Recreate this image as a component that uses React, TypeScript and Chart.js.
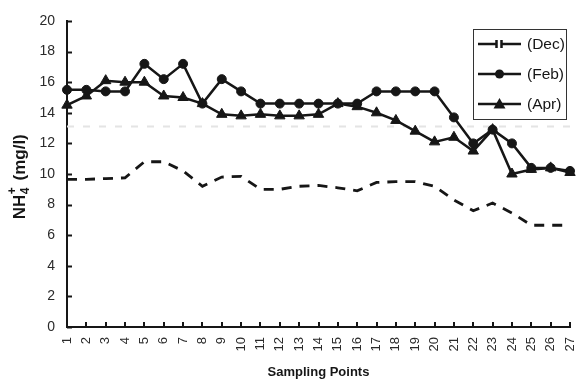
import React, { useEffect, useRef } from "react";
import { Chart, registerables } from "chart.js";

Chart.register(...registerables);

const categories = [
  "1", "2", "3", "4", "5", "6", "7", "8", "9", "10", "11", "12", "13", "14",
  "15", "16", "17", "18", "19", "20", "21", "22", "23", "24", "25", "26", "27",
];

const decValues = [
  9.65, 9.65, 9.7, 9.75, 10.8, 10.8, 10.2, 9.2, 9.8, 9.85, 9.0, 9.0, 9.2, 9.25,
  9.1, 8.9, 9.45, 9.5, 9.5, 9.2, 8.3, 7.6, 8.1, 7.45, 6.65, 6.65, 6.65,
];

const febValues = [
  15.5, 15.5, 15.4, 15.4, 17.2, 16.2, 17.2, 14.6, 16.2, 15.4, 14.6, 14.6, 14.6, 14.6,
  14.6, 14.6, 15.4, 15.4, 15.4, 15.4, 13.7, 12.0, 12.9, 12.0, 10.4, 10.4, 10.2,
];

const aprValues = [
  14.5, 15.1, 16.1, 16.0, 16.0, 15.1, 15.0, 14.6, 13.9, 13.8, 13.9, 13.8, 13.8, 13.9,
  14.6, 14.4, 14.0, 13.5, 12.8, 12.1, 12.4, 11.5, 12.9, 10.0, 10.3, 10.4, 10.1,
];

const seriesLabels = ["(Dec)", "(Feb)", "(Apr)"];
const referenceLevel = 13.1;
const yMin = 0;
const yMax = 20;
const yStep = 2;
const xTitle = "Sampling Points";

const FONT = "'Liberation Sans', Arial, Helvetica, sans-serif";
const INK = "#161616";

const overlayPlugin = {
  id: "overlay",
  beforeDatasetsDraw(chart: any) {
    const { ctx, chartArea, scales } = chart;
    const y = scales.y.getPixelForValue(referenceLevel);
    ctx.save();
    ctx.strokeStyle = "#e4e4e4";
    ctx.lineWidth = 2;
    ctx.setLineDash([7, 9]);
    ctx.beginPath();
    ctx.moveTo(chartArea.left, y);
    ctx.lineTo(chart.width, y);
    ctx.stroke();
    ctx.restore();
  },
  afterDraw(chart: any) {
    const { ctx, chartArea, scales } = chart;
    ctx.save();
    // inward tick marks
    ctx.strokeStyle = INK;
    ctx.lineWidth = 2;
    ctx.setLineDash([]);
    scales.y.ticks.forEach((_t: any, i: number) => {
      const py = Math.round(scales.y.getPixelForTick(i)) + 0.5;
      ctx.beginPath();
      ctx.moveTo(chartArea.left, py);
      ctx.lineTo(chartArea.left + 5, py);
      ctx.stroke();
    });
    scales.x.ticks.forEach((_t: any, i: number) => {
      const px = Math.round(scales.x.getPixelForTick(i));
      ctx.beginPath();
      ctx.moveTo(px, chartArea.bottom);
      ctx.lineTo(px, chartArea.bottom - 5);
      ctx.stroke();
    });

    // y-axis title with subscript / superscript
    const cx = 19;
    const cy = (chartArea.top + chartArea.bottom) / 2 + 3;
    ctx.translate(cx, cy);
    ctx.rotate(-Math.PI / 2);
    const big = `bold 17px ${FONT}`;
    const small = `bold 12px ${FONT}`;
    ctx.font = big;
    const wNH = ctx.measureText("NH").width;
    const wRest = ctx.measureText(" (mg/l)").width;
    ctx.font = small;
    const wSub = Math.max(ctx.measureText("4").width, ctx.measureText("+").width) + 2;
    const total = wNH + wSub + wRest;
    let x = -total / 2;
    const base = 6.2;
    ctx.fillStyle = INK;
    ctx.textBaseline = "alphabetic";
    ctx.textAlign = "left";
    ctx.font = big;
    ctx.fillText("NH", x, base);
    x += wNH + 0.5;
    ctx.font = small;
    ctx.fillText("4", x, base + 3.5);
    ctx.fillText("+", x, base - 9.5);
    x += wSub;
    ctx.font = big;
    ctx.fillText(" (mg/l)", x, base);
    ctx.restore();

    // legend box
    ctx.save();
    const bw = 93;
    const bh = 90;
    const bx = chartArea.right - 4 - bw;
    const by = chartArea.top + 8;
    ctx.fillStyle = "#ffffff";
    ctx.fillRect(bx, by, bw, bh);
    ctx.strokeStyle = "#333333";
    ctx.lineWidth = 1;
    ctx.strokeRect(Math.round(bx) + 0.5, Math.round(by) + 0.5, bw, bh);
    const rowY = [by + 15, by + 45, by + 75];
    const x0 = bx + 5;
    const x1 = bx + 48;
    const mid = (x0 + x1) / 2;
    chart.data.datasets.forEach((ds: any, i: number) => {
      const yy = rowY[i];
      ctx.strokeStyle = INK;
      ctx.fillStyle = INK;
      ctx.lineWidth = 2.5;
      ctx.setLineDash([]);
      if (i === 0) {
        ctx.beginPath();
        ctx.moveTo(x0, yy);
        ctx.lineTo(mid - 3, yy);
        ctx.moveTo(mid + 2, yy);
        ctx.lineTo(x1, yy);
        ctx.moveTo(mid - 3, yy - 4);
        ctx.lineTo(mid - 3, yy + 4);
        ctx.moveTo(mid + 2, yy - 4);
        ctx.lineTo(mid + 2, yy + 4);
        ctx.stroke();
      } else {
        ctx.beginPath();
        ctx.moveTo(x0, yy);
        ctx.lineTo(x1, yy);
        ctx.stroke();
        if (ds.pointStyle === "circle") {
          ctx.beginPath();
          ctx.arc(mid, yy, 4.5, 0, Math.PI * 2);
          ctx.fill();
        } else {
          ctx.beginPath();
          ctx.moveTo(mid, yy - 6);
          ctx.lineTo(mid + 6, yy + 4.5);
          ctx.lineTo(mid - 6, yy + 4.5);
          ctx.closePath();
          ctx.fill();
        }
      }
      ctx.font = `15.5px ${FONT}`;
      ctx.textBaseline = "middle";
      ctx.textAlign = "left";
      ctx.fillText(seriesLabels[i], x1 + 6, yy + 1);
    });
    ctx.restore();
  },
};

export default function App() {
  const canvasRef = useRef<HTMLCanvasElement | null>(null);

  useEffect(() => {
    if (!canvasRef.current) return;
    const chart = new Chart(canvasRef.current, {
      type: "line",
      data: {
        labels: categories,
        datasets: [
          {
            label: seriesLabels[0],
            data: decValues,
            borderColor: INK,
            borderWidth: 2.8,
            borderDash: [10, 8],
            pointRadius: 0,
            tension: 0,
            fill: false,
          },
          {
            label: seriesLabels[1],
            data: febValues,
            borderColor: INK,
            backgroundColor: INK,
            borderWidth: 2.5,
            pointStyle: "circle",
            pointRadius: 4.5,
            pointBackgroundColor: INK,
            pointBorderColor: INK,
            pointBorderWidth: 1,
            tension: 0,
            fill: false,
          },
          {
            label: seriesLabels[2],
            data: aprValues,
            borderColor: INK,
            backgroundColor: INK,
            borderWidth: 2.5,
            pointStyle: "triangle",
            pointRadius: 6,
            pointBackgroundColor: INK,
            pointBorderColor: INK,
            pointBorderWidth: 1,
            tension: 0,
            fill: false,
          },
        ],
      },
      options: {
        responsive: false,
        animation: false,
        layout: { padding: { top: 21, right: 8, left: 0, bottom: 0 } },
        plugins: {
          legend: { display: false },
          tooltip: { enabled: false },
        },
        scales: {
          x: {
            type: "category",
            offset: false,
            grid: { display: true, drawOnChartArea: false, drawTicks: false },
            border: { display: true, color: INK, width: 2 },
            ticks: {
              minRotation: 90,
              maxRotation: 90,
              autoSkip: false,
              padding: 10,
              color: "#2a2a2a",
              font: { family: FONT, size: 13 },
            },
            title: {
              display: true,
              text: xTitle,
              color: INK,
              font: { family: FONT, size: 13, weight: "bold" },
              padding: { top: 4, bottom: 4 },
            },
            afterFit: (scale: any) => {
              scale.height = 57;
              scale.paddingRight = 0;
              scale.paddingLeft = 0;
            },
          },
          y: {
            min: yMin,
            max: yMax,
            grid: { display: true, drawOnChartArea: false, drawTicks: false },
            border: { display: true, color: INK, width: 2 },
            ticks: {
              stepSize: yStep,
              padding: 12,
              color: "#2a2a2a",
              font: { family: FONT, size: 14 },
            },
            afterFit: (scale: any) => {
              scale.width = 67;
            },
          },
        },
      },
      plugins: [overlayPlugin],
    });
    return () => chart.destroy();
  }, []);

  return (
    <div style={{ position: "absolute", left: 0, top: 0, width: 578, height: 384, background: "#fff" }}>
      <canvas ref={canvasRef} width={578} height={384} />
    </div>
  );
}
